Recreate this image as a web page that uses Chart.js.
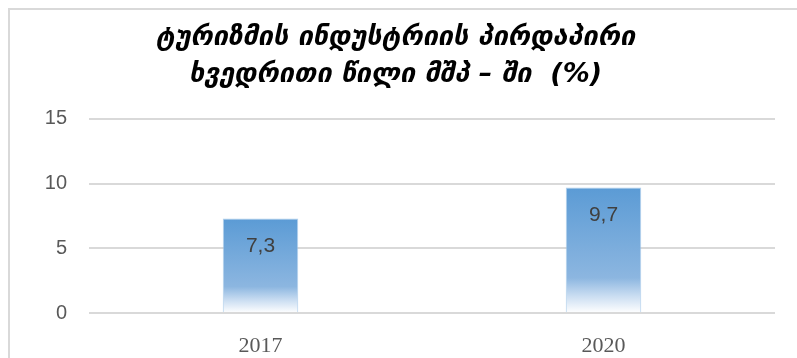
<!DOCTYPE html>
<html>
<head>
<meta charset="utf-8">
<script src="https://cdn.jsdelivr.net/npm/chart.js@4/dist/chart.umd.min.js"></script>
<style>
    body { margin: 0; background: #fff; }
    #wrap { position: relative; width: 797px; height: 358px; overflow: hidden; }
    #frame {
        position: absolute; left: 8px; top: 8px; width: 820px; height: 400px;
        border-top: 2px solid #d9d9d9; border-left: 2px solid #d9d9d9;
    }
    #grafico { position: absolute; left: 0; top: 0; }
</style>
</head>
<body>
<div id="wrap">
    <div id="frame"></div>
    <canvas id="grafico" width="797" height="358"></canvas>
</div>
<script>
const titulo = ['ტურიზმის ინდუსტრიის პირდაპირი', 'ხვედრითი წილი მშპ – ში  (%)']
const anos = ['2017', '2020']
const participacao = [7.3, 9.7]
const ticksY = [0, 5, 10, 15]

function preenchimento(ctx) {
    const chart = ctx.chart
    const escala = chart.scales.y
    if (!chart.chartArea || !escala || ctx.parsed === undefined) return '#5b9bd5'
    const topo = escala.getPixelForValue(ctx.parsed.y)
    const base = escala.getPixelForValue(0)
    const g = chart.ctx.createLinearGradient(0, topo, 0, base)
    g.addColorStop(0, '#5b9bd5')
    g.addColorStop(0.72, '#8cb6e0')
    g.addColorStop(0.86, '#c8dcf1')
    g.addColorStop(1, '#ffffff')
    return g
}

// valor escrito dentro da barra, com virgula decimal
const rotulos = {
    id: 'rotulos',
    afterDatasetsDraw(chart) {
        const c = chart.ctx
        const meta = chart.getDatasetMeta(0)
        c.save()
        c.font = '21px "Liberation Sans", Arial, sans-serif'
        c.fillStyle = '#404040'
        c.textAlign = 'center'
        c.textBaseline = 'middle'
        meta.data.forEach((barra, i) => {
            const texto = participacao[i].toFixed(1).replace('.', ',')
            c.fillText(texto, barra.x, barra.y + 28)
        })
        c.restore()
    }
}

const grafico = new Chart(document.getElementById('grafico'), {
    type: 'bar',
    data: {
        labels: anos,
        datasets: [{
            label: 'მშპ',
            data: participacao,
            backgroundColor: preenchimento,
            borderColor: 'rgba(157,195,230,0.8)',
            borderWidth: 1,
            borderSkipped: 'bottom',
            categoryPercentage: 1,
            barPercentage: 0.22
        }]
    },
    options: {
        responsive: false,
        animation: false,
        layout: { padding: { top: 0, right: 22, bottom: 0, left: 16 } },
        plugins: {
            legend: { display: false },
            tooltip: { enabled: false },
            title: {
                display: true,
                text: titulo,
                color: '#000',
                font: { family: '"DejaVu Sans", sans-serif', size: 27, style: 'italic', weight: 'bold', lineHeight: 1.37 },
                padding: { top: 19, bottom: 26 }
            }
        },
        scales: {
            x: {
                grid: { display: false },
                border: { display: false },
                ticks: {
                    color: '#595959',
                    font: { family: '"Liberation Serif", serif', size: 22 },
                    padding: 12
                },
                afterFit: s => { s.height = 45 }
            },
            y: {
                min: 0,
                max: 15,
                afterBuildTicks: s => { s.ticks = ticksY.map(v => ({ value: v })) },
                grid: { color: '#d9d9d9', lineWidth: 2, drawTicks: false },
                border: { display: false },
                ticks: {
                    color: '#595959',
                    font: { family: '"Liberation Sans", Arial, sans-serif', size: 20 },
                    padding: 22
                },
                afterFit: s => { s.width = 73 }
            }
        }
    },
    plugins: [rotulos]
})
</script>
</body>
</html>
